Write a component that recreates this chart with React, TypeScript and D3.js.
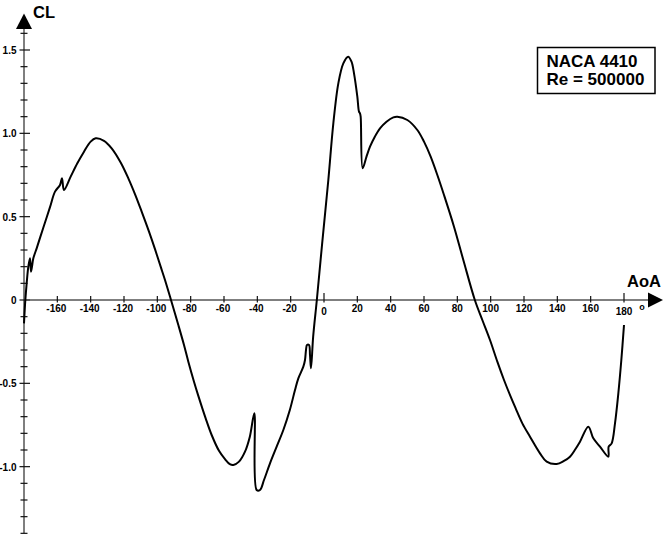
import React from "react";
import * as d3 from "d3";

const aoaDeg: number[] = [
  -180, -179.2, -178.4, -177.4, -176.4, -175.8, -175.2, -174.4, -172.4, -170.4,
  -167.4, -164.4, -161.4, -158.4, -157.2, -156, -152, -148, -144, -140,
  -137, -132, -127.4, -122, -117.4, -113, -109.4, -105, -101.4, -98,
  -95.4, -91.8, -87.4, -84, -81.4, -78, -75.4, -71, -67.4, -63,
  -59.4, -56.5, -54.4, -51, -47.4, -44.5, -41.8, -40.4, -38.4, -36, -32.4,
  -28.4, -24.4, -20.5, -17.4, -15.4, -12.4, -11.4, -10.8, -10.2, -9.0,
  -8.4, -7.8, -6.5, -4.3, -1, 2.6, 5.6, 8.6, 11.6, 14.5,
  16.5, 18, 20, 21, 21.6, 22, 23.2, 25.5, 27.6, 30.5,
  33.6, 37.5, 41.6, 44, 50, 56, 60, 64, 68, 72,
  78, 83.6, 90.5, 95, 99.6, 104, 108, 112, 115, 119, 123.6,
  129.6, 133.6, 139.6, 144, 147.6, 150.5, 153.6, 158.6, 161.6, 165.6,
  170.6, 170.8, 172.6, 174.6, 176.6, 178.4, 180,
];

const clValues: number[] = [
  -0.14, 0.0, 0.1, 0.2, 0.25, 0.17, 0.2, 0.25, 0.31, 0.373,
  0.465, 0.557, 0.65, 0.69, 0.73, 0.66, 0.74, 0.82, 0.89, 0.95,
  0.97, 0.955, 0.91, 0.825, 0.73, 0.625, 0.53, 0.41, 0.305, 0.2,
  0.12, 0.0, -0.15, -0.27, -0.37, -0.49, -0.575, -0.71, -0.81, -0.905,
  -0.955, -0.985, -0.99, -0.97, -0.91, -0.82, -0.68, -1.14, -1.14, -1.08, -0.98,
  -0.88, -0.78, -0.66, -0.54, -0.47, -0.4, -0.36, -0.3, -0.27, -0.27,
  -0.33, -0.41, -0.22, 0.0, 0.35, 0.72, 1.06, 1.3, 1.42, 1.46,
  1.43, 1.36, 1.22, 1.13, 1.12, 1.1, 0.79, 0.86, 0.92, 0.98,
  1.03, 1.07, 1.096, 1.1, 1.08, 1.02, 0.95, 0.86, 0.75, 0.63,
  0.44, 0.24, 0.0, -0.12, -0.24, -0.37, -0.48, -0.58, -0.65, -0.74, -0.82,
  -0.92, -0.97, -0.984, -0.965, -0.94, -0.9, -0.85, -0.76, -0.83, -0.88,
  -0.94, -0.88, -0.86, -0.74, -0.56, -0.36, -0.15,
];

const xTickValues: number[] = [-160, -140, -120, -100, -80, -60, -40, -20, 0, 20, 40, 60, 80, 100, 120, 140, 160, 180];
const yMajorTicks: number[] = [1.5, 1.0, 0.5, 0, -0.5, -1.0];
const yTickLabels: string[] = ["1.5", "1.0", "0.5", "0", "-0.5", "-1.0"];
const legendLines: string[] = ["NACA 4410", "Re = 500000"];

const FONT = "'Liberation Sans', Arial, Helvetica, sans-serif";

export default function App() {
  const W = 667;
  const H = 545;
  const x = d3.scaleLinear().domain([-180, 180]).range([24, 624]);
  const y = d3.scaleLinear().domain([-1.4, 1.6]).range([533.33, 33.33]);

  const pts: [number, number][] = aoaDeg.map((a, i) => [a, clValues[i]]);
  const line = d3
    .line<[number, number]>()
    .x((d) => x(d[0]))
    .y((d) => y(d[1]))
    .curve(d3.curveCatmullRom.alpha(0.5));

  const minorY = d3.range(-14, 17).map((k) => k / 10);
  const x0 = x(-180);
  const y0 = y(0);

  return (
    <svg
      width={W}
      height={H}
      style={{ position: "absolute", left: 0, top: 0, background: "#fff" }}
      fontFamily={FONT}
    >
      <rect x={0} y={0} width={W} height={H} fill="#fff" />
      {/* Y axis */}
      <line x1={x0} y1={y(-1.4)} x2={x0} y2={28} stroke="#555" strokeWidth={1.5} />
      <path d={`M${x0},13.5 L${x0 - 8},29 L${x0 + 8},29 Z`} fill="#000" />
      {minorY.map((v) => {
        const isMajor = Math.abs(v * 2 - Math.round(v * 2)) < 1e-6;
        return (
          <line
            key={"ym" + v}
            x1={isMajor ? x0 - 4.5 : x0 - 3.5}
            x2={isMajor ? x0 + 6 : x0 + 3.5}
            y1={y(v)}
            y2={y(v)}
            stroke="#111"
            strokeWidth={1.2}
          />
        );
      })}
      {yMajorTicks.map((v, i) => (
        <text
          key={"yl" + v}
          x={16.5}
          y={y(v) + 4}
          textAnchor="end"
          fontSize={10}
          fontWeight="bold"
          fill="#000"
        >
          {yTickLabels[i]}
        </text>
      ))}
      <text x={33} y={18} fontSize={16.5} fontWeight="bold" fill="#000">
        CL
      </text>

      {/* X axis */}
      <line x1={x0} y1={y0} x2={649} y2={y0} stroke="#555" strokeWidth={1.5} />
      <path d={`M663,${y0} L648,${y0 - 7.5} L648,${y0 + 7.5} Z`} fill="#000" />
      {xTickValues.map((v) => {
        const big = v === 0 || v === 180;
        return (
          <g key={"xt" + v}>
            <line
              x1={x(v)}
              x2={x(v)}
              y1={big ? y0 - 7 : y0 - 4}
              y2={y0 + 2.5}
              stroke="#111"
              strokeWidth={1.2}
            />
            <text
              x={x(v) - (v < 0 ? 1 : 0)}
              y={big ? y0 + 14.8 : y0 + 12.5}
              textAnchor="middle"
              fontSize={10}
              fontWeight="bold"
              fill="#000"
            >
              {v}
            </text>
          </g>
        );
      })}
      <text x={642} y={310} textAnchor="middle" fontSize={9} fontWeight="bold" fill="#000">
        o
      </text>
      <text x={661} y={286.5} textAnchor="end" fontSize={16.5} fontWeight="bold" fill="#000">
        AoA
      </text>

      {/* Curve */}
      <path d={line(pts) || ""} fill="none" stroke="#000" strokeWidth={2} strokeLinejoin="round" />

      {/* Legend box */}
      <rect x={537.5} y={47.5} width={117.5} height={46} fill="#fff" stroke="#000" strokeWidth={1.5} />
      {legendLines.map((t, i) => (
        <text key={t} x={546.5} y={66.5 + i * 18.5} fontSize={17} fontWeight="bold" fill="#000">
          {t}
        </text>
      ))}
    </svg>
  );
}
